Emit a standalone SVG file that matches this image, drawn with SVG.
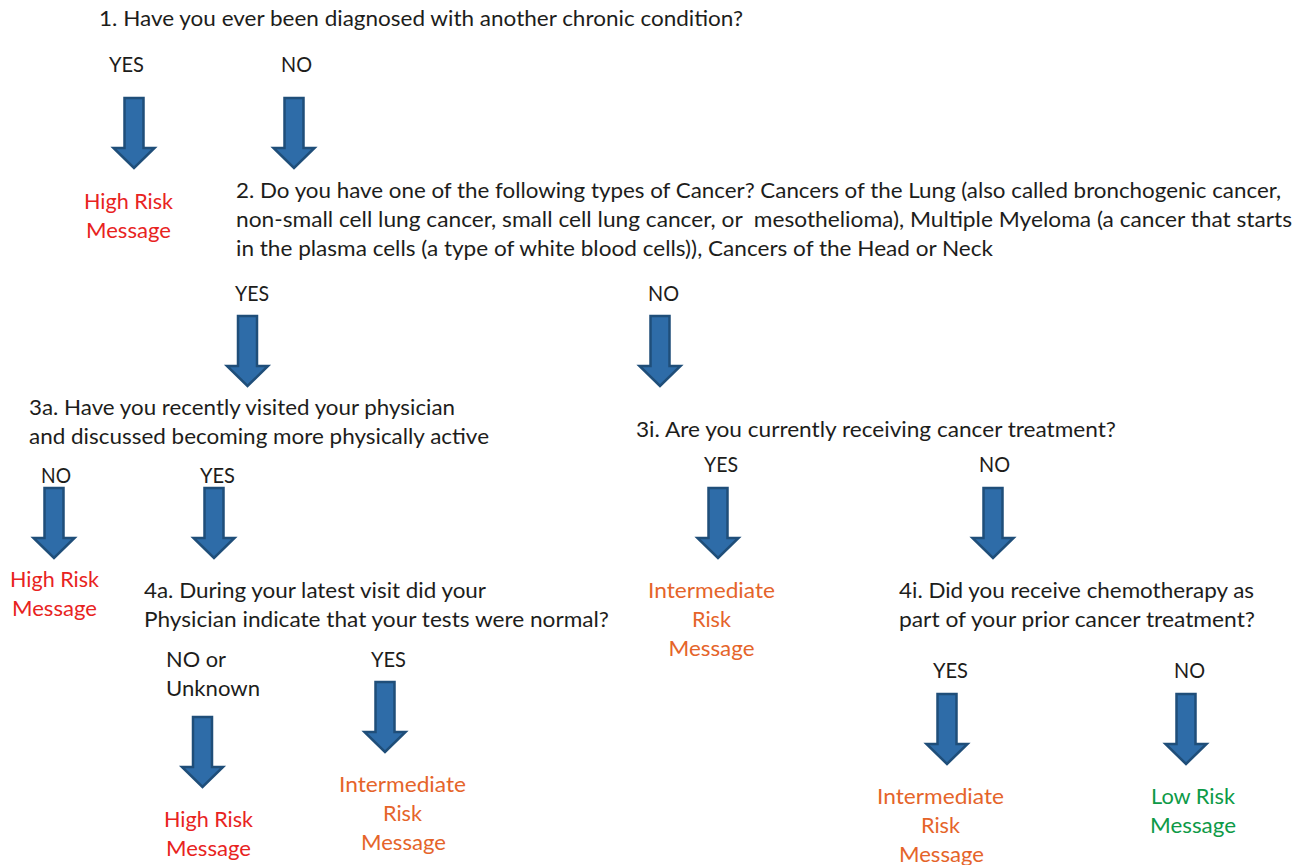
<svg xmlns="http://www.w3.org/2000/svg" xmlns:xlink="http://www.w3.org/1999/xlink" width="1302" height="865" viewBox="0 0 1302 865">
<style>
text{font-family:Lato,"Open Sans","Liberation Sans",sans-serif;font-size:21px;fill:#1d1d1b}
.red{fill:#e8231e}
.org{fill:#e5642a}
.grn{fill:#0d9a47}
.m{text-anchor:middle}
.arr{fill:#2e6ca8;stroke:#1f4e79;stroke-width:2.5;stroke-linejoin:miter}
</style>
<defs>
<path id="dn" class="arr" d="M-9.5,1 H9.5 V51 H20.5 L0,71 L-20.5,51 H-9.5 Z"/>
</defs>
<rect width="1302" height="865" fill="#ffffff"/>
<g id="connectors">
<use xlink:href="#dn" href="#dn" x="134" y="97"/>
<use xlink:href="#dn" href="#dn" x="294" y="97"/>
<use xlink:href="#dn" href="#dn" x="247.5" y="315"/>
<use xlink:href="#dn" href="#dn" x="660" y="315"/>
<use xlink:href="#dn" href="#dn" x="54" y="487"/>
<use xlink:href="#dn" href="#dn" x="214" y="487"/>
<use xlink:href="#dn" href="#dn" x="718" y="487"/>
<use xlink:href="#dn" href="#dn" x="993" y="487"/>
<use xlink:href="#dn" href="#dn" x="202.5" y="716"/>
<use xlink:href="#dn" href="#dn" x="385" y="681"/>
<use xlink:href="#dn" href="#dn" x="947" y="693"/>
<use xlink:href="#dn" href="#dn" x="1186" y="693"/>
</g>
<g id="q1">
<text x="99" y="26" textLength="644" lengthAdjust="spacingAndGlyphs">1. Have you ever been diagnosed with another chronic condition?</text>
<text x="109" y="72" textLength="35" lengthAdjust="spacingAndGlyphs">YES</text>
<text x="281" y="72" textLength="31" lengthAdjust="spacingAndGlyphs">NO</text>
</g>
<g id="out-q1-yes">
<text class="red m" x="128.5" y="209" textLength="89" lengthAdjust="spacingAndGlyphs">High Risk</text>
<text class="red m" x="128.5" y="238" textLength="85" lengthAdjust="spacingAndGlyphs">Message</text>
</g>
<g id="q2">
<text x="236" y="198" textLength="1045" lengthAdjust="spacingAndGlyphs">2. Do you have one of the following types of Cancer? Cancers of the Lung (also called bronchogenic cancer,</text>
<text x="236" y="227" textLength="1056" lengthAdjust="spacingAndGlyphs" xml:space="preserve" style="white-space:pre">non-small cell lung cancer, small cell lung cancer, or  mesothelioma), Multiple Myeloma (a cancer that starts</text>
<text x="236" y="256" textLength="757" lengthAdjust="spacingAndGlyphs">in the plasma cells (a type of white blood cells)), Cancers of the Head or Neck</text>
<text x="235" y="301" textLength="34" lengthAdjust="spacingAndGlyphs">YES</text>
<text x="648" y="301" textLength="31" lengthAdjust="spacingAndGlyphs">NO</text>
</g>
<g id="q3a">
<text x="29" y="415" textLength="426" lengthAdjust="spacingAndGlyphs">3a. Have you recently visited your physician</text>
<text x="29" y="444" textLength="460" lengthAdjust="spacingAndGlyphs">and discussed becoming more physically active</text>
<text x="41" y="483" textLength="30" lengthAdjust="spacingAndGlyphs">NO</text>
<text x="200" y="483" textLength="35" lengthAdjust="spacingAndGlyphs">YES</text>
</g>
<g id="q3i">
<text x="636" y="437" textLength="480" lengthAdjust="spacingAndGlyphs">3i. Are you currently receiving cancer treatment?</text>
<text x="704" y="472" textLength="34" lengthAdjust="spacingAndGlyphs">YES</text>
<text x="979" y="472" textLength="31" lengthAdjust="spacingAndGlyphs">NO</text>
</g>
<g id="out-q3a-no">
<text class="red m" x="54.5" y="587" textLength="89" lengthAdjust="spacingAndGlyphs">High Risk</text>
<text class="red m" x="54.5" y="616" textLength="85" lengthAdjust="spacingAndGlyphs">Message</text>
</g>
<g id="q4a">
<text x="144" y="598" textLength="342" lengthAdjust="spacingAndGlyphs">4a. During your latest visit did your</text>
<text x="144" y="627" textLength="465" lengthAdjust="spacingAndGlyphs">Physician indicate that your tests were normal?</text>
<text x="166" y="667" textLength="60" lengthAdjust="spacingAndGlyphs">NO or</text>
<text x="166" y="696" textLength="94" lengthAdjust="spacingAndGlyphs">Unknown</text>
<text x="371" y="667" textLength="35" lengthAdjust="spacingAndGlyphs">YES</text>
</g>
<g id="out-q3i-yes">
<text class="org m" x="711.5" y="598" textLength="127" lengthAdjust="spacingAndGlyphs">Intermediate</text>
<text class="org m" x="711.5" y="627" textLength="39" lengthAdjust="spacingAndGlyphs">Risk</text>
<text class="org m" x="711.5" y="656" textLength="86" lengthAdjust="spacingAndGlyphs">Message</text>
</g>
<g id="q4i">
<text x="899" y="598" textLength="355" lengthAdjust="spacingAndGlyphs">4i. Did you receive chemotherapy as</text>
<text x="899" y="627" textLength="356" lengthAdjust="spacingAndGlyphs">part of your prior cancer treatment?</text>
<text x="933" y="678" textLength="35" lengthAdjust="spacingAndGlyphs">YES</text>
<text x="1174" y="678" textLength="31" lengthAdjust="spacingAndGlyphs">NO</text>
</g>
<g id="out-q4a-no">
<text class="red m" x="208.5" y="827" textLength="89" lengthAdjust="spacingAndGlyphs">High Risk</text>
<text class="red m" x="208.5" y="856" textLength="85" lengthAdjust="spacingAndGlyphs">Message</text>
</g>
<g id="out-q4a-yes">
<text class="org m" x="402.5" y="792" textLength="127" lengthAdjust="spacingAndGlyphs">Intermediate</text>
<text class="org m" x="402.5" y="821" textLength="39" lengthAdjust="spacingAndGlyphs">Risk</text>
<text class="org m" x="403.5" y="850" textLength="85" lengthAdjust="spacingAndGlyphs">Message</text>
</g>
<g id="out-q4i-yes">
<text class="org m" x="940.5" y="804" textLength="127" lengthAdjust="spacingAndGlyphs">Intermediate</text>
<text class="org m" x="940.5" y="833" textLength="39" lengthAdjust="spacingAndGlyphs">Risk</text>
<text class="org m" x="941.5" y="862" textLength="85" lengthAdjust="spacingAndGlyphs">Message</text>
</g>
<g id="out-q4i-no">
<text class="grn m" x="1193" y="804" textLength="84" lengthAdjust="spacingAndGlyphs">Low Risk</text>
<text class="grn m" x="1193" y="833" textLength="86" lengthAdjust="spacingAndGlyphs">Message</text>
</g>
</svg>
